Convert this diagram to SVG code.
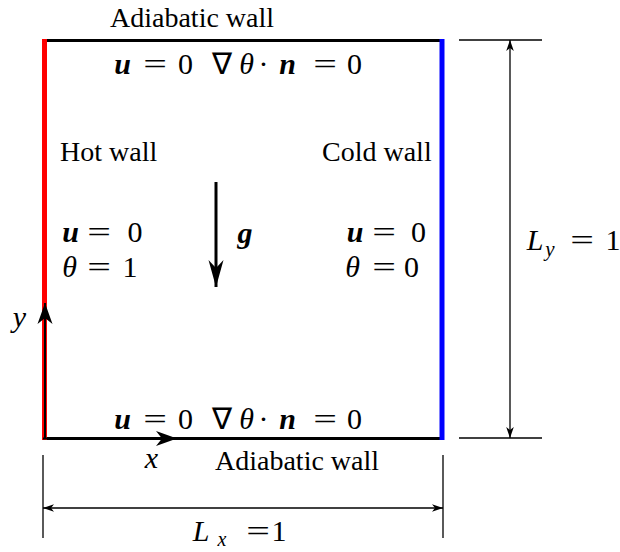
<svg xmlns="http://www.w3.org/2000/svg" width="620" height="552" viewBox="0 0 620 552">
<style>
.t{font-family:"Liberation Serif","Times New Roman",serif;font-size:28px;fill:#000}
.m{font-family:"Liberation Serif","Times New Roman",serif;font-size:30px;fill:#000;text-anchor:middle}
.i{font-style:italic}
.b{font-style:italic;font-weight:bold}
.dim{stroke:#000;stroke-width:1.3;fill:none}
</style>
<defs>
<marker id="big" markerUnits="userSpaceOnUse" viewBox="-30 -10 32 20" refX="0" refY="0" markerWidth="32" markerHeight="20" orient="auto">
<path d="M0,0 L-27,-7.5 L-19,0 L-27,7.5 Z" fill="#000"/>
</marker>
<marker id="mid" markerUnits="userSpaceOnUse" viewBox="-24 -10 26 20" refX="0" refY="0" markerWidth="26" markerHeight="20" orient="auto">
<path d="M0,0 L-21,-7.5 L-15,0 L-21,7.5 Z" fill="#000"/>
</marker>
<marker id="small" markerUnits="userSpaceOnUse" viewBox="-12 -5 13 10" refX="0" refY="0" markerWidth="13" markerHeight="10" orient="auto-start-reverse">
<path d="M0,0 L-11,-3.8 L-8,0 L-11,3.8 Z" fill="#000"/>
</marker>
</defs>
<rect width="620" height="552" fill="#fff"/>
<g id="walls">
<line x1="43" y1="40.5" x2="442" y2="40.5" stroke="#000" stroke-width="3"/>
<line x1="43" y1="438.5" x2="442" y2="438.5" stroke="#000" stroke-width="3"/>
<line x1="44.5" y1="39" x2="44.5" y2="440" stroke="#ff0000" stroke-width="5"/>
<line x1="442" y1="39" x2="442" y2="440" stroke="#0000ff" stroke-width="5"/>
</g>
<g id="connectors">
<line x1="45" y1="438" x2="45" y2="303" stroke="#000" stroke-width="2" marker-end="url(#mid)"/>
<line x1="43" y1="438.5" x2="177" y2="438.5" stroke="#000" stroke-width="2" marker-end="url(#mid)"/>
<line x1="216" y1="182" x2="216" y2="287" stroke="#000" stroke-width="3" marker-end="url(#big)"/>
<line class="dim" x1="510" y1="40" x2="510" y2="438" marker-start="url(#small)" marker-end="url(#small)"/>
<line class="dim" x1="43" y1="508" x2="443" y2="508" marker-start="url(#small)" marker-end="url(#small)"/>
</g>
<g id="dimension-lines">
<line class="dim" x1="459" y1="40" x2="542" y2="40"/>
<line class="dim" x1="459" y1="438" x2="542" y2="438"/>
<line class="dim" x1="43" y1="455" x2="43" y2="538"/>
<line class="dim" x1="443" y1="455" x2="443" y2="538"/>
</g>
<g id="top-wall-labels">
<text class="t" x="110" y="27">Adiabatic wall</text>
<text class="m b" x="122.5" y="74">u</text>
<text class="m" transform="translate(155 74) scale(1.4 1)">=</text>
<text class="m" x="185.5" y="74">0</text>
<text class="m" x="221.5" y="74">∇</text>
<text class="m i" x="246.5" y="74">θ</text>
<text class="m" x="263.5" y="74">·</text>
<text class="m b" x="287.5" y="74">n</text>
<text class="m" transform="translate(325 74) scale(1.4 1)">=</text>
<text class="m" x="354.5" y="74">0</text>
</g>
<g id="bottom-wall-labels">
<text class="t" x="215" y="470">Adiabatic wall</text>
<text class="m b" x="122.5" y="429">u</text>
<text class="m" transform="translate(155 429) scale(1.4 1)">=</text>
<text class="m" x="185.5" y="429">0</text>
<text class="m" x="221.5" y="429">∇</text>
<text class="m i" x="246.5" y="429">θ</text>
<text class="m" x="263.5" y="429">·</text>
<text class="m b" x="287.5" y="429">n</text>
<text class="m" transform="translate(325 429) scale(1.4 1)">=</text>
<text class="m" x="354.5" y="429">0</text>
</g>
<g id="hot-wall-labels">
<text class="t" x="60" y="161">Hot wall</text>
<text class="m b" x="70.5" y="242">u</text>
<text class="m" transform="translate(99 242) scale(1.4 1)">=</text>
<text class="m" x="135" y="242">0</text>
<text class="m i" x="69.5" y="277">θ</text>
<text class="m" transform="translate(99 277) scale(1.4 1)">=</text>
<text class="m" x="130" y="277">1</text>
</g>
<g id="cold-wall-labels">
<text class="t" x="322" y="161">Cold wall</text>
<text class="m b" x="355" y="242">u</text>
<text class="m" transform="translate(384 242) scale(1.4 1)">=</text>
<text class="m" x="418.5" y="242">0</text>
<text class="m i" x="352.5" y="277">θ</text>
<text class="m" transform="translate(384 277) scale(1.4 1)">=</text>
<text class="m" x="411.5" y="277">0</text>
</g>
<g id="gravity-label">
<text class="m b" x="245" y="243">g</text>
</g>
<g id="axis-labels">
<text class="m i" x="19.5" y="327">y</text>
<text class="m i" x="151.5" y="468">x</text>
</g>
<g id="dimension-labels">
<text class="m i" x="535" y="250">L</text>
<text class="m i" x="550" y="256" style="font-size:21px">y</text>
<text class="m" transform="translate(582 250) scale(1.4 1)">=</text>
<text class="m" x="613" y="250">1</text>
<text class="m i" x="201" y="541">L</text>
<text class="m i" x="222" y="546" style="font-size:20px">x</text>
<text class="m" transform="translate(258 541) scale(1.4 1)">=</text>
<text class="m" x="279" y="541">1</text>
</g>
</svg>
